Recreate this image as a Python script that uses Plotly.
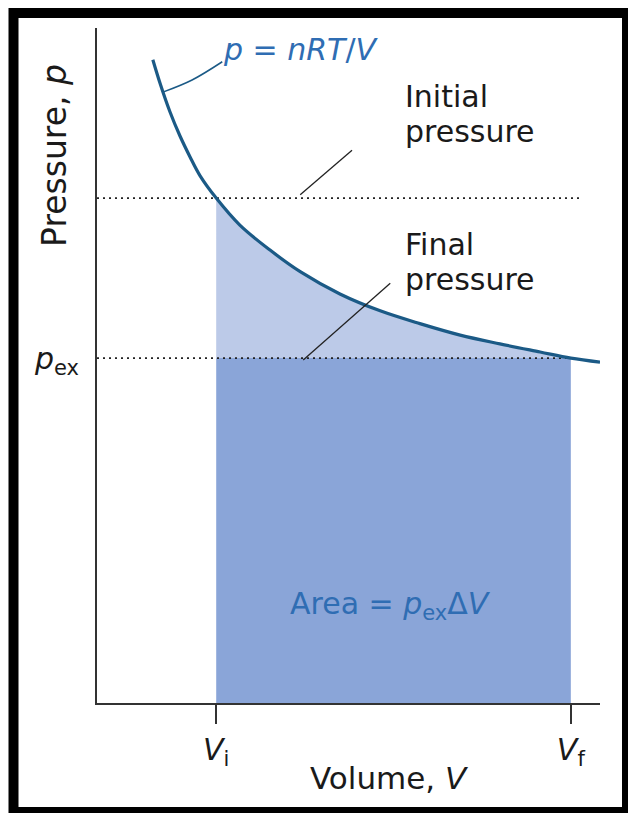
import plotly.graph_objects as go

# ---- data (arbitrary units: V axis 0..10, p axis 0..10) ----
V_curve = [1.11, 1.25, 1.45, 1.65, 1.85, 2.05, 2.37, 2.84, 3.44, 4.04, 4.83, 5.63, 6.42, 7.22, 8.01, 8.81, 9.42, 10.0]
p_curve = [9.53, 9.19, 8.76, 8.40, 8.09, 7.81, 7.48, 7.08, 6.71, 6.39, 6.06, 5.81, 5.62, 5.45, 5.32, 5.20, 5.11, 5.05]
V_i = 2.37
V_f = 9.42
p_init = 7.48
p_ex = 5.11
x_ticks = [V_i, V_f]
x_ticktext = ["<i>V</i><sub>i</sub>", "<i>V</i><sub>f</sub>"]
y_ticks = [p_ex]
y_ticktext = ["<i>p</i><sub>ex</sub>"]
init_line_end = 9.66

# leader lines (start on mark, end at label)
lead_nrt_x = [1.31, 1.89, 2.49]
lead_nrt_y = [9.05, 9.23, 9.50]
lead_init_x = [4.04, 5.07]
lead_init_y = [7.53, 8.19]
lead_final_x = [4.10, 5.83]
lead_final_y = [5.08, 6.22]

FONT = "DejaVu Sans, Liberation Sans, Arial, sans-serif"
TXT = "#1a1a1a"
BLUE = "#2f6db3"
CURVE = "#1b5a86"
DARK_FILL = "#8aa5d8"
LIGHT_FILL = "#bccae8"

fig = go.Figure()

# dark rectangle: area = p_ex * dV
fig.add_trace(go.Scatter(x=[V_i, V_f, V_f, V_i, V_i], y=[0, 0, p_ex, p_ex, 0],
                         fill="toself", fillcolor=DARK_FILL, mode="lines",
                         line=dict(width=0, color=DARK_FILL), hoverinfo="skip"))

# light region between p_ex and the curve
fig.add_trace(go.Scatter(x=[V_i, V_f], y=[p_ex, p_ex], mode="lines",
                         line=dict(width=0, color=LIGHT_FILL), hoverinfo="skip"))
seg_x = [v for v in V_curve if V_i <= v <= V_f]
seg_y = [p for v, p in zip(V_curve, p_curve) if V_i <= v <= V_f]
fig.add_trace(go.Scatter(x=seg_x, y=seg_y, mode="lines", fill="tonexty", fillcolor=LIGHT_FILL,
                         line=dict(width=0, color=LIGHT_FILL, shape="spline"), hoverinfo="skip"))

# dotted pressure levels
fig.add_trace(go.Scatter(x=[0, init_line_end], y=[p_init, p_init], mode="lines",
                         line=dict(color="#222222", width=1.6, dash="2px,4px"), hoverinfo="skip"))
fig.add_trace(go.Scatter(x=[0, V_f], y=[p_ex, p_ex], mode="lines",
                         line=dict(color="#222222", width=1.6, dash="2px,4px"), hoverinfo="skip"))

# isotherm curve
fig.add_trace(go.Scatter(x=V_curve, y=p_curve, mode="lines",
                         line=dict(color=CURVE, width=3.2, shape="spline"), hoverinfo="skip"))

# leader lines
fig.add_trace(go.Scatter(x=lead_nrt_x, y=lead_nrt_y, mode="lines",
                         line=dict(color=CURVE, width=1.5, shape="spline"), hoverinfo="skip"))
fig.add_trace(go.Scatter(x=lead_init_x, y=lead_init_y, mode="lines",
                         line=dict(color="#222222", width=1.3), hoverinfo="skip"))
fig.add_trace(go.Scatter(x=lead_final_x, y=lead_final_y, mode="lines",
                         line=dict(color="#222222", width=1.3), hoverinfo="skip"))

def note(x, y, text, size, color=TXT, xref="x", yref="y", xanchor="left", angle=0):
    return dict(x=x, y=y, xref=xref, yref=yref, text=text, showarrow=False,
                xanchor=xanchor, yanchor="middle", textangle=angle,
                font=dict(size=size, color=color, family=FONT))

ann = [
    note(2.47, 9.68, "<i>p</i> = <i>nRT</i>/<i>V</i>", 30, BLUE),
    note(6.08, 8.98, "Initial", 30),
    note(6.08, 8.46, "pressure", 30),
    note(6.08, 6.79, "Final", 30),
    note(6.08, 6.27, "pressure", 30),
    note(5.83, 1.45, "Area = <i>p</i><sub>ex</sub>Δ<i>V</i>", 30, BLUE, xanchor="center"),
    note(0.5825, -0.111, "Volume, <i>V</i>", 31, xref="paper", yref="paper", xanchor="center"),
    note(-0.0835, 0.812, "Pressure, <i>p</i>", 33, xref="paper", yref="paper", xanchor="center", angle=-90),
]

fig.update_layout(
    width=628, height=813,
    margin=dict(l=97, r=28, t=28, b=110),
    paper_bgcolor="white", plot_bgcolor="white",
    showlegend=False,
    font=dict(family=FONT, color=TXT),
    annotations=ann,
    shapes=[dict(type="rect", xref="paper", yref="paper",
                 x0=-0.166, x1=1.0537, y0=-0.1615, y1=1.0222,
                 line=dict(color="black", width=10), fillcolor="rgba(0,0,0,0)", layer="above")],
)
fig.update_xaxes(range=[0, 10], showgrid=False, zeroline=False, showline=True,
                 linecolor="#333333", linewidth=2, ticks="outside", ticklen=19, tickwidth=2,
                 tickcolor="#333333", tickvals=x_ticks, ticktext=x_ticktext,
                 tickfont=dict(size=30, color=TXT, family=FONT), ticklabelstandoff=0)
fig.update_yaxes(range=[0, 10], showgrid=False, zeroline=False, showline=True,
                 linecolor="#333333", linewidth=2, ticks="", tickvals=y_ticks, ticktext=y_ticktext,
                 tickfont=dict(size=30, color=TXT, family=FONT), ticklabelstandoff=10)

fig.write_html("out.html",
               config={"displayModeBar": False},
               post_script="document.body.style.margin='0';"
                           "document.body.style.overflow='hidden';"
                           "document.documentElement.style.overflow='hidden';")
